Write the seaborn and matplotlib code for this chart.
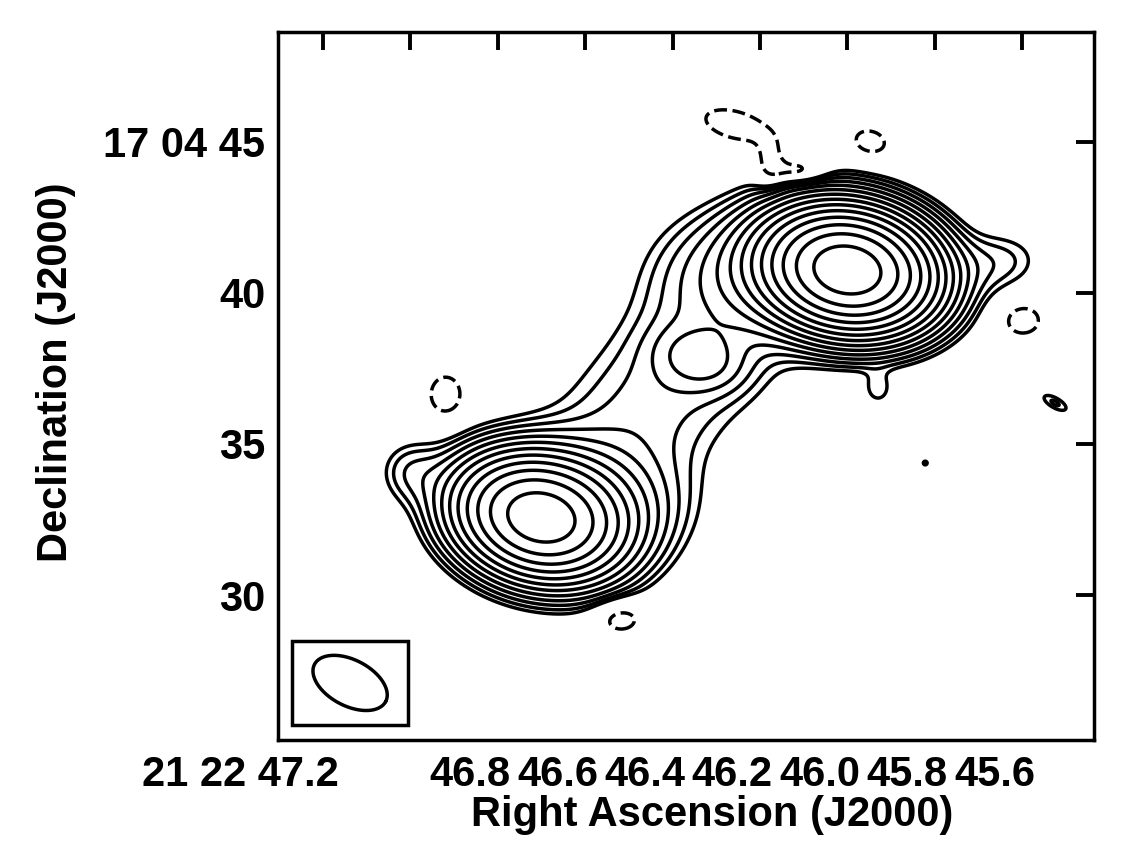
import numpy as np
import seaborn as sns
import matplotlib
matplotlib.use("Agg")
import matplotlib.pyplot as plt
from matplotlib.patches import Rectangle
from matplotlib.transforms import ScaledTranslation

sns.set_style("white")
plt.rcParams['font.family'] = ['Liberation Sans', 'DejaVu Sans']
plt.rcParams['font.weight'] = 'bold'
plt.rcParams['text.color'] = 'black'
plt.rcParams['axes.labelcolor'] = 'black'
plt.rcParams['xtick.color'] = 'black'
plt.rcParams['ytick.color'] = 'black'

# emission components (RA seconds of 21h22m, Dec arcsec of +17d04m)
comp_ra = [46.705, 46.600, 45.999, 46.246, 46.337, 46.420, 47.001, 45.651, 45.930, 45.822, 45.525]
comp_dec = [32.55, 33.00, 40.76, 40.60, 37.80, 36.85, 34.10, 41.03, 36.80, 34.37, 36.36]
comp_amp = [55.0, 5.0, 118.0, 3.5, 2.8, 2.4, 1.6, 1.5, 1.2, 1.15, 1.5]
comp_maj = [1.5, 1.9, 1.49, 1.8, 0.95, 3.4, 0.7, 1.0, 0.35, 0.12, 0.45]   # arcsec
comp_min = [1.07, 1.3, 1.06, 1.4, 0.65, 1.7, 0.7, 0.7, 0.4, 0.12, 0.18]
comp_pa = [-15, 0, -10, 0, -15, 45, 0, 5, 0, 0, -30]                     # deg, ccw from west

# negative (dashed) noise patches
neg_ra = [46.919, 46.520, 45.600, 45.948, 46.257, 46.177, 46.110]
neg_dec = [36.62, 29.24, 39.11, 45.00, 45.56, 44.24, 44.00]
neg_amp = [-1.8, -1.6, -1.5, -1.5, -1.5, -1.4, -2.0]
neg_maj = [0.45, 0.62, 0.6, 0.55, 1.1, 0.35, 0.6]
neg_min = [0.55, 0.44, 0.5, 0.4, 0.5, 0.6, 0.3]
neg_pa = [0, 0, 0, -15, -15, 0, 0]

# contour levels (multiples of lowest level, steps of sqrt 2)
pos_levels = [2 ** (k / 2) for k in range(14)]
neg_levels = [-1.0]

# restoring beam
beam_ra, beam_dec = 47.138, 27.09
beam_maj, beam_min, beam_pa = 1.32, 0.76, -28

xticks = [47.2, 47.0, 46.8, 46.6, 46.4, 46.2, 46.0, 45.8, 45.6]
xticklabels = ['21 22 47.2', '', '46.8', '46.6', '46.4', '46.2', '46.0', '45.8', '45.6']
yticks = [30, 35, 40, 45]
yticklabels = ['30', '35', '40', '17 04 45']

SEC = 15 * np.cos(np.deg2rad(17.07))   # arcsec per second of RA


def gauss_sum(RA, DEC, ras, decs, amps, majs, mins, pas):
    Z = np.zeros_like(RA)
    for r0, d0, a, sj, sn, pa in zip(ras, decs, amps, majs, mins, pas):
        u = -(RA - r0) * SEC
        v = DEC - d0
        t = np.deg2rad(pa)
        up = u * np.cos(t) + v * np.sin(t)
        vp = -u * np.sin(t) + v * np.cos(t)
        Z += a * np.exp(-0.5 * ((up / sj) ** 2 + (vp / sn) ** 2))
    return Z


ra = np.linspace(45.436, 47.303, 700)
dec = np.linspace(25.2, 48.64, 700)
RA, DEC = np.meshgrid(ra, dec)
Z = gauss_sum(RA, DEC, comp_ra, comp_dec, comp_amp, comp_maj, comp_min, comp_pa)
Z += gauss_sum(RA, DEC, neg_ra, neg_dec, neg_amp, neg_maj, neg_min, neg_pa)

fig = plt.figure(figsize=(11.25, 8.57), dpi=100)
ax = fig.add_axes([0.2471, 0.1365, 0.7253, 0.8262])

ax.contour(RA, DEC, Z, levels=pos_levels, colors='black', linewidths=2.5, linestyles='solid')
ax.contour(RA, DEC, Z, levels=neg_levels, colors='black', linewidths=2.5, linestyles='dashed')

# beam ellipse and its box
t = np.linspace(0, 2 * np.pi, 200)
pa = np.deg2rad(beam_pa)
bu = beam_maj * np.cos(t) * np.cos(pa) - beam_min * np.sin(t) * np.sin(pa)
bv = beam_maj * np.cos(t) * np.sin(pa) + beam_min * np.sin(t) * np.cos(pa)
ax.plot(beam_ra - bu / SEC, beam_dec + bv, color='black', lw=2.5)
box_w, box_h = 3.8, 2.8
ax.add_patch(Rectangle((beam_ra + box_w / 2 / SEC, beam_dec - box_h / 2), -box_w / SEC, box_h,
                       fill=False, edgecolor='black', lw=2.5))

ax.set_xlim(47.303, 45.436)
ax.set_ylim(25.2, 48.64)
ax.set_xticks(xticks)
ax.set_xticklabels(xticklabels)
ax.set_yticks(yticks)
ax.set_yticklabels(yticklabels)
ax.tick_params(direction='in', length=13, width=2.8, top=True, right=True,
               labelsize=30, pad=9)
ax.tick_params(axis='x', pad=11)
for s in ax.spines.values():
    s.set_linewidth(2.5)
    s.set_color('black')

labels = ax.get_xticklabels()
for i, lab in enumerate(labels):
    if i == 0:
        lab.set_ha('right')
        lab.set_transform(lab.get_transform() + ScaledTranslation(11 / 72, 0, fig.dpi_scale_trans))
    else:
        lab.set_transform(lab.get_transform() + ScaledTranslation(-20 / 72, 0, fig.dpi_scale_trans))

ax.set_xlabel('Right Ascension (J2000)', fontsize=30, fontweight='bold')
ax.set_ylabel('Declination (J2000)', fontsize=30, fontweight='bold')
ax.xaxis.set_label_coords(0.532, -0.078)
ax.yaxis.set_label_coords(-0.247, 0.52)

fig.savefig('out.png', dpi=100)
